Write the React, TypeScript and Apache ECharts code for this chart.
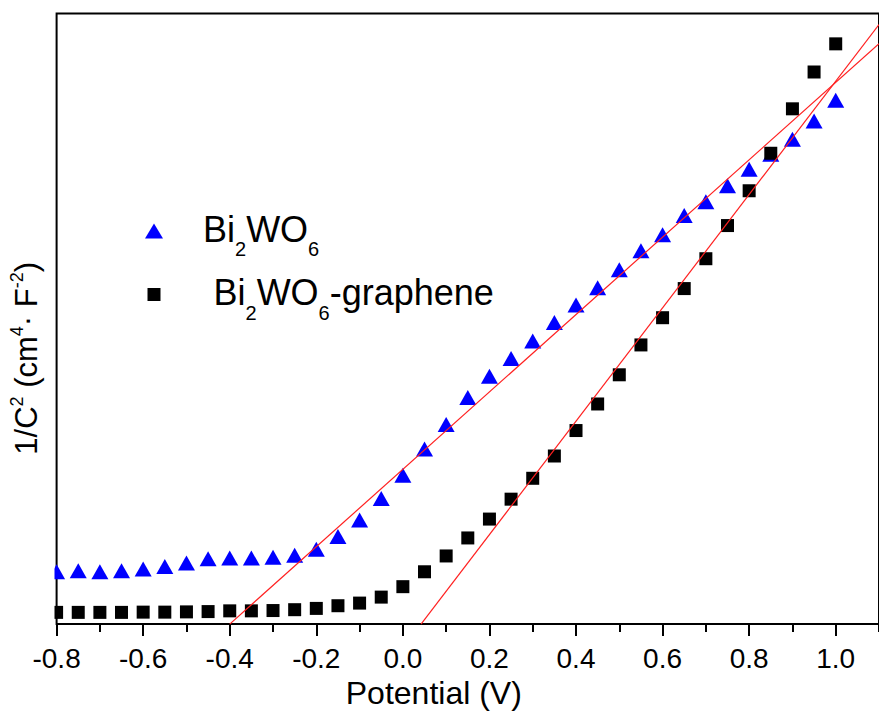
import React, { useEffect, useRef } from "react";
import * as echarts from "echarts";

const FONT = "'Liberation Sans', Arial, Helvetica, sans-serif";

// Potential (V)
const potential = [
  -0.8, -0.75, -0.7, -0.65, -0.6, -0.55, -0.5, -0.45, -0.4, -0.35, -0.3, -0.25,
  -0.2, -0.15, -0.1, -0.05, 0.0, 0.05, 0.1, 0.15, 0.2, 0.25, 0.3, 0.35, 0.4,
  0.45, 0.5, 0.55, 0.6, 0.65, 0.7, 0.75, 0.8, 0.85, 0.9, 0.95, 1.0,
];

// 1/C^2 (arbitrary units) — Bi2WO6
const bi2wo6 = [
  0.857, 0.872, 0.857, 0.872, 0.904, 0.942, 1.002, 1.069, 1.083, 1.083, 1.093,
  1.126, 1.224, 1.435, 1.704, 2.058, 2.439, 2.867, 3.27, 3.713, 4.058, 4.35,
  4.637, 4.941, 5.225, 5.507, 5.805, 6.113, 6.375, 6.69, 6.917, 7.18, 7.45,
  7.695, 7.939, 8.239, 8.581,
];

// 1/C^2 (arbitrary units) — Bi2WO6-graphene
const bi2wo6Graphene = [
  0.192, 0.192, 0.192, 0.192, 0.196, 0.196, 0.2, 0.205, 0.217, 0.217, 0.222,
  0.236, 0.257, 0.301, 0.344, 0.442, 0.613, 0.857, 1.116, 1.411, 1.72, 2.046,
  2.388, 2.753, 3.17, 3.605, 4.083, 4.572, 5.018, 5.495, 5.984, 6.527, 7.097,
  7.711, 8.439, 9.042, 9.503,
];

// Linear fit lines (end points)
const fitBi2wo6X = [-0.4, 1.1];
const fitBi2wo6Y = [0, 9.506];
const fitGrapheneX = [0.042, 1.1];
const fitGrapheneY = [0, 9.82];

const xTickValues = [-0.8, -0.6, -0.4, -0.2, 0.0, 0.2, 0.4, 0.6, 0.8, 1.0];

const NAME_A = "Bi2WO6";
const NAME_B = "Bi2WO6-graphene";

const pair = (xs: number[], ys: number[]) => xs.map((x, i) => [x, ys[i]]);

const legendRich = {
  m: { fontSize: 36, fontFamily: FONT, color: "#000", padding: [12, 0, 16, 0] },
  s: { fontSize: 20, fontFamily: FONT, color: "#000", padding: [40, 0, 4, 0] },
  sp: { fontSize: 36, fontFamily: FONT, width: 35, padding: [12, 0, 16, 0] },
  sp2: { fontSize: 36, fontFamily: FONT, width: 48, padding: [12, 0, 16, 0] },
};

export default function App() {
  const ref = useRef<HTMLDivElement>(null);

  useEffect(() => {
    if (!ref.current) return;
    const chart = echarts.init(ref.current, undefined, { renderer: "svg" });
    const option: any = {
      animation: false,
      backgroundColor: "#fff",
      textStyle: { fontFamily: FONT, color: "#000" },
      grid: {
        left: 55.5,
        top: 13.5,
        width: 827,
        height: 613.8,
        show: true,
        borderColor: "#000",
        borderWidth: 2,
        backgroundColor: "transparent",
        containLabel: false,
      },
      xAxis: [
        {
          type: "value",
          min: -0.8,
          max: 1.1,
          interval: 0.2,
          position: "bottom",
          name: "Potential (V)",
          nameLocation: "middle",
          nameGap: 52,
          nameTextStyle: {
            fontSize: 32,
            fontFamily: FONT,
            color: "#000",
            padding: [0, 68, 0, 0],
          },
          axisLine: { show: false },
          axisTick: {
            show: true,
            inside: false,
            length: 12,
            lineStyle: { color: "#000", width: 2 },
          },
          splitLine: { show: false },
          axisLabel: {
            show: true,
            margin: 20,
            fontSize: 28,
            fontFamily: FONT,
            color: "#000",
            showMaxLabel: false,
            formatter: (v: number) =>
              xTickValues.some((t) => Math.abs(t - v) < 1e-6) ? v.toFixed(1) : "",
          },
        },
        {
          type: "value",
          min: -0.8,
          max: 1.1,
          interval: 0.1,
          position: "bottom",
          axisLine: { show: false },
          axisTick: {
            show: true,
            inside: false,
            length: 8,
            lineStyle: { color: "#000", width: 2 },
          },
          axisLabel: { show: false },
          splitLine: { show: false },
        },
      ],
      yAxis: {
        type: "value",
        min: 0,
        max: 10,
        name: "{m|1/C}{s|2}{m| (cm}{s|4}{m|· F}{s|-2}{m|)}",
        nameLocation: "middle",
        nameRotate: 90,
        nameGap: 10.7,
        nameTextStyle: {
          fontFamily: FONT,
          color: "#000",
          padding: [0, 79, 0, 0],
          rich: {
            m: { fontSize: 31, fontFamily: FONT, color: "#000", padding: [4, 0, 4, 0] },
            s: { fontSize: 18, fontFamily: FONT, color: "#000", padding: [1.1, 0, 19.9, 0] },
          },
        },
        axisLine: { show: false },
        axisTick: { show: false },
        axisLabel: { show: false },
        splitLine: { show: false },
      },
      legend: [
        {
          data: [NAME_A],
          orient: "vertical",
          left: 145,
          top: 211,
          padding: 0,
          itemWidth: 18,
          itemHeight: 15,
          symbolKeepAspect: false,
          selectedMode: false,
          formatter: () => "{sp| }{m|Bi}{s|2}{m|WO}{s|6}",
          textStyle: { fontFamily: FONT, color: "#000", rich: legendRich },
        },
        {
          data: [NAME_B],
          orient: "vertical",
          left: 147.5,
          top: 274.5,
          padding: 0,
          itemWidth: 13,
          itemHeight: 13,
          symbolKeepAspect: false,
          selectedMode: false,
          formatter: () => "{sp2| }{m|Bi}{s|2}{m|WO}{s|6}{m|-graphene}",
          textStyle: { fontFamily: FONT, color: "#000", rich: legendRich },
        },
      ],
      graphic: {
        elements: [
          {
            type: "rect",
            z: 100,
            silent: true,
            shape: { x: 30, y: 558, width: 24.5, height: 66 },
            style: { fill: "#fff" },
          },
        ],
      },
      series: [
        {
          name: NAME_A,
          type: "scatter",
          symbol: "triangle",
          symbolSize: [17, 15],
          itemStyle: { color: "#0000ff", opacity: 1 },
          data: pair(potential, bi2wo6),
          z: 2,
        },
        {
          name: NAME_B,
          type: "scatter",
          symbol: "rect",
          symbolSize: 13,
          itemStyle: { color: "#000000", opacity: 1 },
          data: pair(potential, bi2wo6Graphene),
          z: 2,
        },
        {
          name: "fit1",
          type: "line",
          data: pair(fitBi2wo6X, fitBi2wo6Y),
          symbol: "none",
          showSymbol: false,
          lineStyle: { color: "#ff2020", width: 1.2 },
          clip: true,
          z: 3,
        },
        {
          name: "fit2",
          type: "line",
          data: pair(fitGrapheneX, fitGrapheneY),
          symbol: "none",
          showSymbol: false,
          lineStyle: { color: "#ff2020", width: 1.2 },
          clip: true,
          z: 3,
        },
      ],
    };
    chart.setOption(option);
    return () => chart.dispose();
  }, []);

  return (
    <div
      ref={ref}
      style={{
        position: "absolute",
        left: 0,
        top: 0,
        width: 879,
        height: 714,
        background: "#fff",
      }}
    />
  );
}
